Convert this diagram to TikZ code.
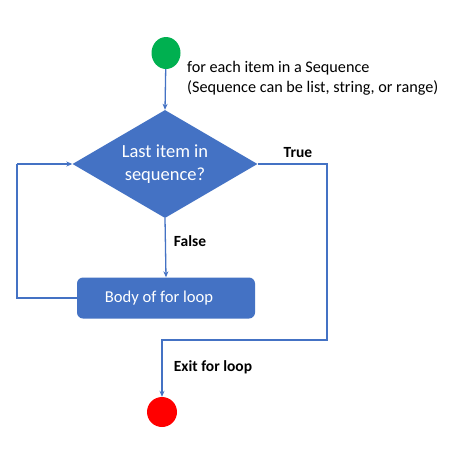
\documentclass[tikz,border=0pt]{standalone}
\usepackage{fontspec}
\setmainfont{Carlito}
\usetikzlibrary{shapes.geometric,arrows.meta}
\definecolor{fcblue}{HTML}{4472C4}
\definecolor{fcgreen}{HTML}{00B050}
\definecolor{fcred}{HTML}{FF0000}
\tikzset{
  conn/.style={draw=fcblue, line width=1.3pt},
  arr/.style={conn, -{Stealth[length=6pt,width=5pt]}},
  lbl/.style={font=\fontsize{15.5}{18}\selectfont\bfseries, text=black, inner sep=0},
  note/.style={font=\fontsize{16.2}{20}\selectfont, text=black, align=left, inner sep=0},
}
\begin{document}
\begin{tikzpicture}[x=1pt,y=-1pt]
\useasboundingbox (0,0) rectangle (458,458);
\fill[white] (0,0) rectangle (458,458);
% start / end
\node[ellipse, fill=fcgreen, minimum width=29pt, minimum height=32pt, inner sep=0] (start) at (166,53) {};
\node[circle, fill=fcred, minimum size=30pt, inner sep=0] (stop) at (162,412) {};
% decision
\node[diamond, fill=fcblue, minimum width=185pt, minimum height=108pt, shape aspect=1.75, inner sep=0, align=center, text=white, font=\fontsize{18.5}{23}\selectfont] (dec) at (165,164) {Last item in\\sequence?\rule{0pt}{4pt}};
% body
\node[rectangle, rounded corners=6pt, fill=fcblue, minimum width=178pt, minimum height=41pt, inner sep=0, text=white, font=\fontsize{16.6}{20}\selectfont] (body) at (166,298) {\hspace*{-14pt}Body of for loop};
% coordinates
\coordinate (tr) at (327,164);
\coordinate (br) at (327,340);
\coordinate (bl) at (stop |- br);
\coordinate (ll) at (17,298);
\coordinate (lu) at (17,164);
% connectors
\draw[arr] (start) -- (dec.north);
\draw[arr] (dec.south) -- (body.north);
\draw[conn] (body.west) -- (ll) -- (lu);
\draw[arr] (lu) -- (dec.west);
\draw[arr] (dec.east) -- (tr) -- (br) -- (bl) -- (stop.north);
% labels
\node[note, anchor=west] (notetext) at (187,78) {for each item in a Sequence\\(Sequence can be list, string, or range)};
\node[lbl] (ltrue) at (298,153) {True};
\node[lbl] (lfalse) at (190,241) {False};
\node[lbl] (lexit) at (213,367) {Exit for loop};
\end{tikzpicture}
\end{document}
